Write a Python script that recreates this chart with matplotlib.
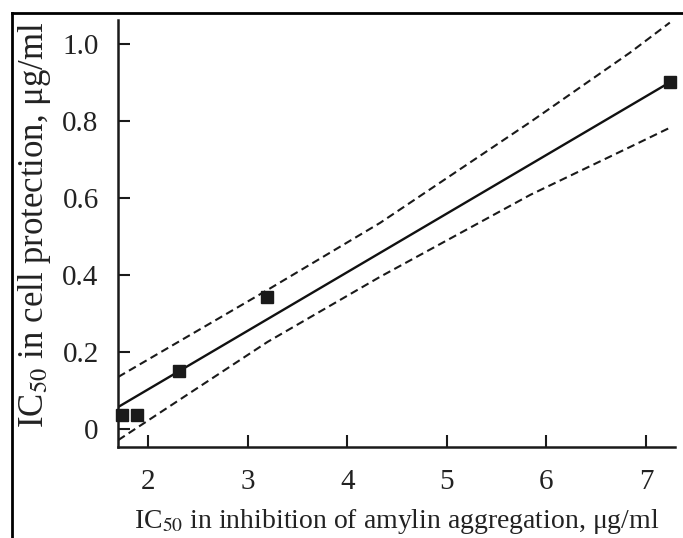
import matplotlib
matplotlib.use('Agg')
import matplotlib.pyplot as plt
from matplotlib.lines import Line2D

plt.rcParams['font.family'] = ['Liberation Serif', 'DejaVu Serif']
plt.rcParams['mathtext.fontset'] = 'stix'

# measured points (IC50 aggregation vs IC50 cell protection)
agg_ic50 = [1.74, 1.89, 2.31, 3.19, 7.24]
cell_ic50 = [0.035, 0.035, 0.15, 0.343, 0.902]

# regression line and confidence band
fit_x = [1.70, 7.24]
fit_y = [0.057, 0.90]
band_x = [1.70, 3.20, 4.33, 5.84, 6.84, 7.24]
band_upper = [0.135, 0.361, 0.535, 0.797, 0.977, 1.055]
band_lower = [-0.029, 0.226, 0.395, 0.608, 0.732, 0.782]

x_ticks = [2, 3, 4, 5, 6, 7]
y_ticks = [0, 0.2, 0.4, 0.6, 0.8, 1.0]
y_ticklabels = ['0', '0.2', '0.4', '0.6', '0.8', '1.0']

fig = plt.figure(figsize=(6.83, 5.38), dpi=100)
ax = fig.add_axes([0.173, 0.169, 0.815, 0.794])

ax.plot(band_x, band_upper, color='#1a1a1a', lw=1.5, dashes=(3.8, 2.2))
ax.plot(band_x, band_lower, color='#1a1a1a', lw=1.5, dashes=(3.8, 2.2))
ax.plot(fit_x, fit_y, color='#111111', lw=1.7)
ax.plot(agg_ic50, cell_ic50, 's', color='#1a1a1a', ms=8, clip_on=False)

ax.set_xlim(1.70, 7.29)
ax.set_ylim(-0.047, 1.062)
ax.set_xticks(x_ticks)
ax.set_yticks(y_ticks)
ax.set_yticklabels(y_ticklabels)

for s in ['top', 'right']:
    ax.spines[s].set_visible(False)
for s in ['left', 'bottom']:
    ax.spines[s].set_linewidth(1.8)
    ax.spines[s].set_color('#1a1a1a')

ax.tick_params(direction='in', length=8.5, width=1.5, labelsize=21,
               color='#1a1a1a', labelcolor='#222222')
ax.tick_params(axis='x', pad=16)
ax.tick_params(axis='y', pad=14)

ax.set_xlabel(r'IC$_{50}$ in inhibition of amylin aggregation, $\mathregular{\mu}$g/ml',
              fontsize=20, color='#222222')
ax.set_ylabel(r'IC$_{50}$ in cell protection, $\mathregular{\mu}$g/ml',
              fontsize=25, color='#222222')
ax.xaxis.set_label_coords(0.5, -0.14)
ax.yaxis.set_label_coords(-0.117, 0.52)

# frame around the figure (left and top edges visible)
fig.add_artist(Line2D([11.5 / 683, 11.5 / 683], [0, 1 - 13 / 538],
                      transform=fig.transFigure, color='black', lw=2))
fig.add_artist(Line2D([11.5 / 683, 1], [1 - 13 / 538, 1 - 13 / 538],
                      transform=fig.transFigure, color='black', lw=2))

fig.savefig('out.png', dpi=100)
